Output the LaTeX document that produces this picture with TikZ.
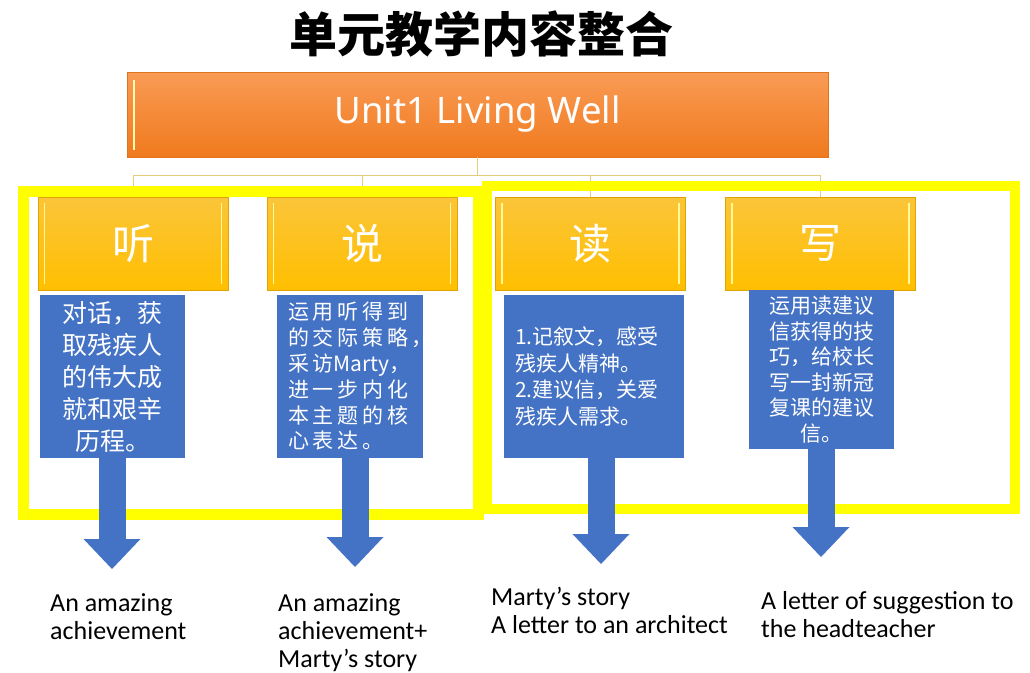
\documentclass[tikz,border=0pt]{standalone}
\usepackage{fontspec}
\setmainfont{Carlito}
\newfontfamily\cjk{Noto Sans CJK SC}
\newfontfamily\uisans{Noto Sans}
\usetikzlibrary{arrows.meta}
\definecolor{bartop}{HTML}{F99B55}
\definecolor{barbot}{HTML}{F07A1E}
\definecolor{baredge}{HTML}{E0741C}
\definecolor{headtop}{HTML}{FBC53A}
\definecolor{headbot}{HTML}{FFBF00}
\definecolor{headedge}{HTML}{E0A400}
\definecolor{boxblue}{HTML}{4472C4}
\definecolor{frameyellow}{HTML}{FFFF00}
\definecolor{linktan}{HTML}{E5CC7A}
\begin{document}
\begin{tikzpicture}[x=1pt,y=-1pt]
  \tikzset{
    head box/.style={draw=headedge, line width=0.8pt, top color=headtop, bottom color=headbot,
      minimum width=190pt, minimum height=93pt, inner sep=0pt, text=white,
      font=\cjk\fontsize{42}{42}\selectfont},
    blue box/.style={fill=boxblue, inner sep=0pt, text=white},
    frame/.style={draw=frameyellow, line width=11pt},
    link/.style={draw=linktan, line width=1pt},
    fat arrow/.style={draw=boxblue, line width=27pt,
      -{Triangle[width=57pt,length=30pt,line width=0pt]}},
    out text/.style={anchor=base west, align=left, inner sep=0pt,
      font=\fontsize{26}{28}\selectfont}
  }
  \useasboundingbox (0,0) rectangle (1030,672);
  \node[font=\cjk\bfseries\fontsize{48}{48}\selectfont] (title) at (481,34) {单元教学内容整合};
  \node[draw=baredge, line width=0.8pt, top color=bartop, bottom color=barbot,
    minimum width=701pt, minimum height=85pt, text=white,
    font=\uisans\fontsize{36.5}{36.5}\selectfont] (bar) at (477.5,114.5) {Unit1 Living Well};
  \draw[white!70!yellow, line width=2pt] (134,80) -- (134,150);
  \coordinate (hub) at (477.5,175);
  \node[head box] (listen) at (133,243.5) {听};
  \node[head box] (speak) at (362,243.5) {说};
  \node[head box] (read) at (590.5,243.5) {读};
  \node[head box] (write) at (820.5,243.5) {写};
  \draw[link] (bar.south) -- (hub);
  \foreach \h in {listen,speak,read,write}
    \draw[link] (hub) -| (\h.north);
  \draw[frame] (23,191) rectangle (478,514);
  \draw[frame, line width=10pt] (487,186) rectangle (1015,509);
  \foreach \h in {listen,speak,read,write} {
    \draw[white!60!yellow, line width=1.5pt] ([xshift=7pt,yshift=-6pt]\h.north west) -- ([xshift=7pt,yshift=6pt]\h.south west);
    \draw[white!60!yellow, line width=1.5pt] ([xshift=-7pt,yshift=-6pt]\h.north east) -- ([xshift=-7pt,yshift=6pt]\h.south east);
  }
  \node[blue box, minimum width=145pt, minimum height=163pt, align=center,
    font=\cjk\fontsize{25}{32}\selectfont] (tlisten) at (112.5,376.5)
    {对话，获\\取残疾人\\的伟大成\\就和艰辛\\历程。};
  \node[blue box, minimum width=146pt, minimum height=163pt, text width=124pt, align=left,
    font=\cjk\fontsize{21}{25.8}\selectfont\addfontfeature{LetterSpace=18}] (tspeak) at (350,376.5)
    {运用听得到\\的交际策略，\\采访{\addfontfeature{LetterSpace=0}Marty}，\\进一步内化\\本主题的核\\心表达。};
  \node[blue box, minimum width=180pt, minimum height=163pt, text width=158pt, align=left,
    font=\cjk\fontsize{21}{26.5}\selectfont] (tread) at (594,376.5)
    {1.记叙文，感受\\残疾人精神。\\2.建议信，关爱\\残疾人需求。};
  \node[blue box, minimum width=145pt, minimum height=159pt, align=center,
    font=\cjk\fontsize{21}{25.5}\selectfont] (twrite) at (821.5,369.5)
    {运用读建议\\信获得的技\\巧，给校长\\写一封新冠\\复课的建议\\信。};
  \coordinate (alisten) at (112,569);
  \coordinate (aspeak) at (355,567);
  \coordinate (aread) at (601,564);
  \coordinate (awrite) at (821,557);
  \draw[fat arrow] (tlisten.south -| alisten) -- (alisten);
  \draw[fat arrow] (tspeak.south -| aspeak) -- (aspeak);
  \draw[fat arrow] (tread.south -| aread) -- (aread);
  \draw[fat arrow] (twrite.south -| awrite) -- (awrite);
  \node[out text] (olisten) at (50,639) {An amazing\\achievement};
  \node[out text] (ospeak) at (278,667) {An amazing\\achievement+\\Marty's story};
  \node[out text] (oread) at (491,633) {Marty's story\\A letter to an architect};
  \node[out text] (owrite) at (761,637) {A letter of suggestion to\\the headteacher};
\end{tikzpicture}
\end{document}
